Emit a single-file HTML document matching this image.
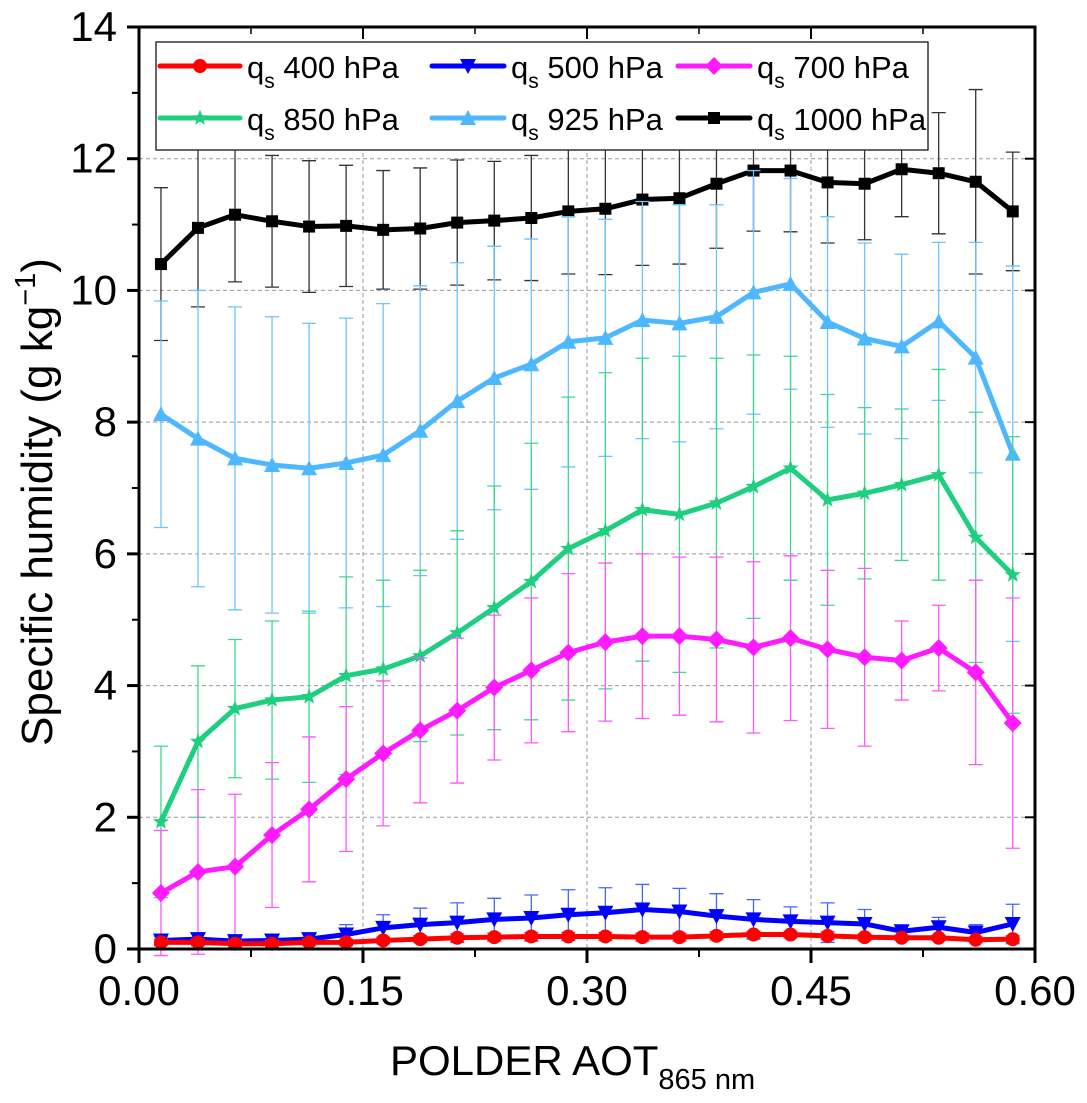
<!DOCTYPE html>
<html><head><meta charset="utf-8">
<style>
html,body{margin:0;padding:0;background:#fff;}
svg{display:block;font-family:"Liberation Sans",Arial,sans-serif;}
</style></head>
<body>
<svg id="chart" width="1087" height="1103" viewBox="0 0 1087 1103" xmlns="http://www.w3.org/2000/svg">
<g id="grid"></g>
<g id="series"></g>
<g id="axes"></g>
<g id="legend"></g>
<text transform="translate(52,502) rotate(-90)" text-anchor="middle" font-size="44">Specific humidity (g kg<tspan font-size="29" dy="-17">−1</tspan><tspan dy="17">)</tspan></text>
<text x="390" y="1075" text-anchor="start" font-size="42">POLDER AOT<tspan font-size="29" dy="14">865 nm</tspan></text>
</svg>
<script>
const xStart = 0.0147;
const xStep = 0.0248;
const q1000 = [10.4,10.95,11.15,11.05,10.97,10.98,10.92,10.94,11.03,11.06,11.1,11.2,11.24,11.38,11.4,11.62,11.82,11.82,11.64,11.62,11.84,11.78,11.65,11.2];
const e1000 = [1.16,1.2,1.02,1.0,1.0,0.92,0.9,0.92,0.95,0.9,0.95,0.95,1.0,1.0,1.0,0.98,0.92,0.93,0.92,0.85,0.72,0.92,1.4,0.9];
const q925 = [8.12,7.75,7.45,7.35,7.3,7.38,7.5,7.87,8.32,8.67,8.88,9.22,9.28,9.55,9.5,9.6,9.97,10.1,9.52,9.27,9.15,9.53,8.98,7.52];
const e925 = [1.72,2.25,2.3,2.25,2.2,2.2,2.3,2.2,2.1,2.0,1.9,1.9,1.8,1.8,1.8,1.7,1.85,1.6,1.6,1.45,1.4,1.2,1.75,2.85];
const q850 = [1.93,3.15,3.65,3.78,3.83,4.15,4.25,4.45,4.8,5.18,5.58,6.08,6.35,6.67,6.6,6.77,7.02,7.3,6.82,6.92,7.05,7.2,6.25,5.68];
const e850 = [1.15,1.15,1.05,1.2,1.3,1.5,1.35,1.3,1.55,1.85,2.1,2.3,2.4,2.3,2.4,2.2,2.0,1.7,1.6,1.3,1.15,1.6,1.9,2.1];
const q700 = [0.85,1.17,1.25,1.73,2.12,2.58,2.97,3.32,3.62,3.97,4.23,4.5,4.66,4.75,4.75,4.7,4.58,4.72,4.55,4.43,4.38,4.57,4.2,3.43];
const e700 = [0.95,1.25,1.1,1.1,1.1,1.1,1.1,1.1,1.1,1.1,1.1,1.2,1.2,1.25,1.2,1.25,1.3,1.25,1.2,1.35,0.6,0.65,1.4,1.9];
const q500 = [0.13,0.15,0.12,0.13,0.15,0.22,0.32,0.37,0.4,0.45,0.47,0.52,0.55,0.6,0.57,0.5,0.45,0.42,0.4,0.38,0.27,0.33,0.25,0.38];
const e500 = [0.06,0.08,0.06,0.07,0.08,0.15,0.2,0.25,0.3,0.32,0.35,0.38,0.38,0.38,0.35,0.34,0.3,0.22,0.3,0.22,0.08,0.15,0.12,0.3];
const q400 = [0.1,0.1,0.08,0.08,0.1,0.1,0.13,0.15,0.17,0.18,0.19,0.19,0.19,0.18,0.18,0.2,0.22,0.22,0.2,0.18,0.17,0.17,0.14,0.15];
const e400 = [0.05,0.05,0.05,0.05,0.05,0.05,0.05,0.05,0.06,0.06,0.06,0.06,0.06,0.06,0.06,0.06,0.05,0.05,0.06,0.05,0.04,0.04,0.04,0.05];
const xTicks = ["0.00","0.15","0.30","0.45","0.60"];
const yTicks = ["0","2","4","6","8","10","12","14"];

const NS="http://www.w3.org/2000/svg";
const L=139,R=1035,T=27,B=949;
const xs=v=>L+(v-0)/0.6*(R-L);
const ys=v=>B-v/14*(B-T);
function mk(tag,attrs,parent){const e=document.createElementNS(NS,tag);for(const k in attrs)e.setAttribute(k,attrs[k]);parent.appendChild(e);return e;}
const grid=document.getElementById('grid'),ser=document.getElementById('series'),ax=document.getElementById('axes'),leg=document.getElementById('legend');

yTicks.forEach(t=>{const v=+t;if(v>0&&v<14){const g=mk('line',{x1:L,x2:R,y1:ys(v),y2:ys(v),stroke:'#999','stroke-width':1,'stroke-dasharray':'4,3'},grid);

}});
xTicks.forEach(t=>{const v=+t;if(v>0&&v<0.6){const g=mk('line',{x1:xs(v),x2:xs(v),y1:T,y2:B,stroke:'#999','stroke-width':1,'stroke-dasharray':'4,3'},grid);

}});

function marker(type,x,y,c,parent){
 let e;
 if(type==='circle') e=mk('circle',{cx:x,cy:y,r:7,fill:c},parent);
 else if(type==='down') e=mk('polygon',{points:`${x-8},${y-7} ${x+8},${y-7} ${x},${y+8}`,fill:c},parent);
 else if(type==='up') e=mk('polygon',{points:`${x-8},${y+7} ${x+8},${y+7} ${x},${y-8}`,fill:c},parent);
 else if(type==='diamond') e=mk('polygon',{points:`${x},${y-9} ${x+9},${y} ${x},${y+9} ${x-9},${y}`,fill:c},parent);
 else if(type==='square') e=mk('rect',{x:x-6,y:y-6,width:12,height:12,fill:c},parent);
 else if(type==='star'){let p=[];for(let i=0;i<10;i++){const r=i%2?3.5:8.5,a=-Math.PI/2+i*Math.PI/5;p.push((x+r*Math.cos(a)).toFixed(1)+','+(y+r*Math.sin(a)).toFixed(1));}e=mk('polygon',{points:p.join(' '),fill:c},parent);}
 return e;
}
const S=[
 {name:'q1000',d:q1000,e:e1000,c:'#000000',ec:'#333',m:'square',lab:'1000 hPa'},
 {name:'q925',d:q925,e:e925,c:'#4db8ff',ec:'#6cc4ff',m:'up',lab:'925 hPa'},
 {name:'q850',d:q850,e:e850,c:'#1fcf80',ec:'#3fd890',m:'star',lab:'850 hPa'},
 {name:'q700',d:q700,e:e700,c:'#ff1aff',ec:'#ff55ff',m:'diamond',lab:'700 hPa'},
 {name:'q500',d:q500,e:e500,c:'#0000ff',ec:'#4466ff',m:'down',lab:'500 hPa'},
 {name:'q400',d:q400,e:e400,c:'#ff0000',ec:'#ff3333',m:'circle',lab:'400 hPa'}
];
S.forEach(s=>{
 const g=mk('g',{},ser);
 
 
 s.d.forEach((v,i)=>{const x=xs(xStart+i*xStep),y1=ys(v+s.e[i]),y2=ys(v-s.e[i]);
  const eb=mk('path',{d:`M${x},${y1}V${y2}M${x-7},${y1}H${x+7}M${x-7},${y2}H${x+7}`,stroke:s.ec,'stroke-width':1.3,fill:'none'},g);
  
  });
 const pl=mk('polyline',{points:s.d.map((v,i)=>xs(xStart+i*xStep)+','+ys(v)).join(' '),fill:'none',stroke:s.c,'stroke-width':5,'stroke-linejoin':'round'},g);
 
 
 s.d.forEach((v,i)=>{const m=marker(s.m,xs(xStart+i*xStep),ys(v),s.c,g);
  
  });
});

const fr=mk('rect',{x:L,y:T,width:R-L,height:B-T,fill:'none',stroke:'#000','stroke-width':3},ax);


xTicks.forEach(t=>{const x=xs(+t);
 mk('line',{x1:x,x2:x,y1:B,y2:B+14,stroke:'#000','stroke-width':3},ax);
 mk('line',{x1:x,x2:x,y1:T,y2:T+12,stroke:'#000','stroke-width':2},ax);
 const tx=mk('text',{x:x,y:1005,'text-anchor':'middle','font-size':42},ax);tx.textContent=t;
 
 });
[0.075,0.225,0.375,0.525].forEach(v=>{const x=xs(v);mk('line',{x1:x,x2:x,y1:B,y2:B+8,stroke:'#000','stroke-width':2},ax);mk('line',{x1:x,x2:x,y1:T,y2:T+7,stroke:'#000','stroke-width':1.5},ax);});
yTicks.forEach(t=>{const y=ys(+t);
 mk('line',{x1:L-12,x2:L,y1:y,y2:y,stroke:'#000','stroke-width':3},ax);
 mk('line',{x1:R-10,x2:R,y1:y,y2:y,stroke:'#000','stroke-width':2},ax);
 const tx=mk('text',{x:L-22,y:y+14,'text-anchor':'end','font-size':42},ax);tx.textContent=t;
 
 });
[1,3,5,7,9,11,13].forEach(v=>{const y=ys(v);mk('line',{x1:L-7,x2:L,y1:y,y2:y,stroke:'#000','stroke-width':2},ax);});

const lb=mk('rect',{x:156,y:42,width:772,height:108,fill:'#fff',stroke:'#333','stroke-width':1.5},leg);


const order=[S[5],S[4],S[3],S[2],S[1],S[0]];
const colX=[160,432,678],colLen=[80,72,72],rowY=[66,118];
order.forEach((s,k)=>{const c=k%3,cx=colX[c],cy=rowY[Math.floor(k/3)],ln=colLen[c];
 const g=mk('g',{},leg);
 
 
 mk('line',{x1:cx,x2:cx+ln,y1:cy,y2:cy,stroke:s.c,'stroke-width':5,'stroke-linecap':'round'},g);
 marker(s.m,cx+ln/2,cy,s.c,g);
 const t=mk('text',{x:cx+ln+7,y:cy+12,'font-size':31},g);
 t.innerHTML='q<tspan font-size="21" dy="10">s</tspan><tspan dy="-10"> '+s.lab+'</tspan>';
});
</script>
</body></html>
